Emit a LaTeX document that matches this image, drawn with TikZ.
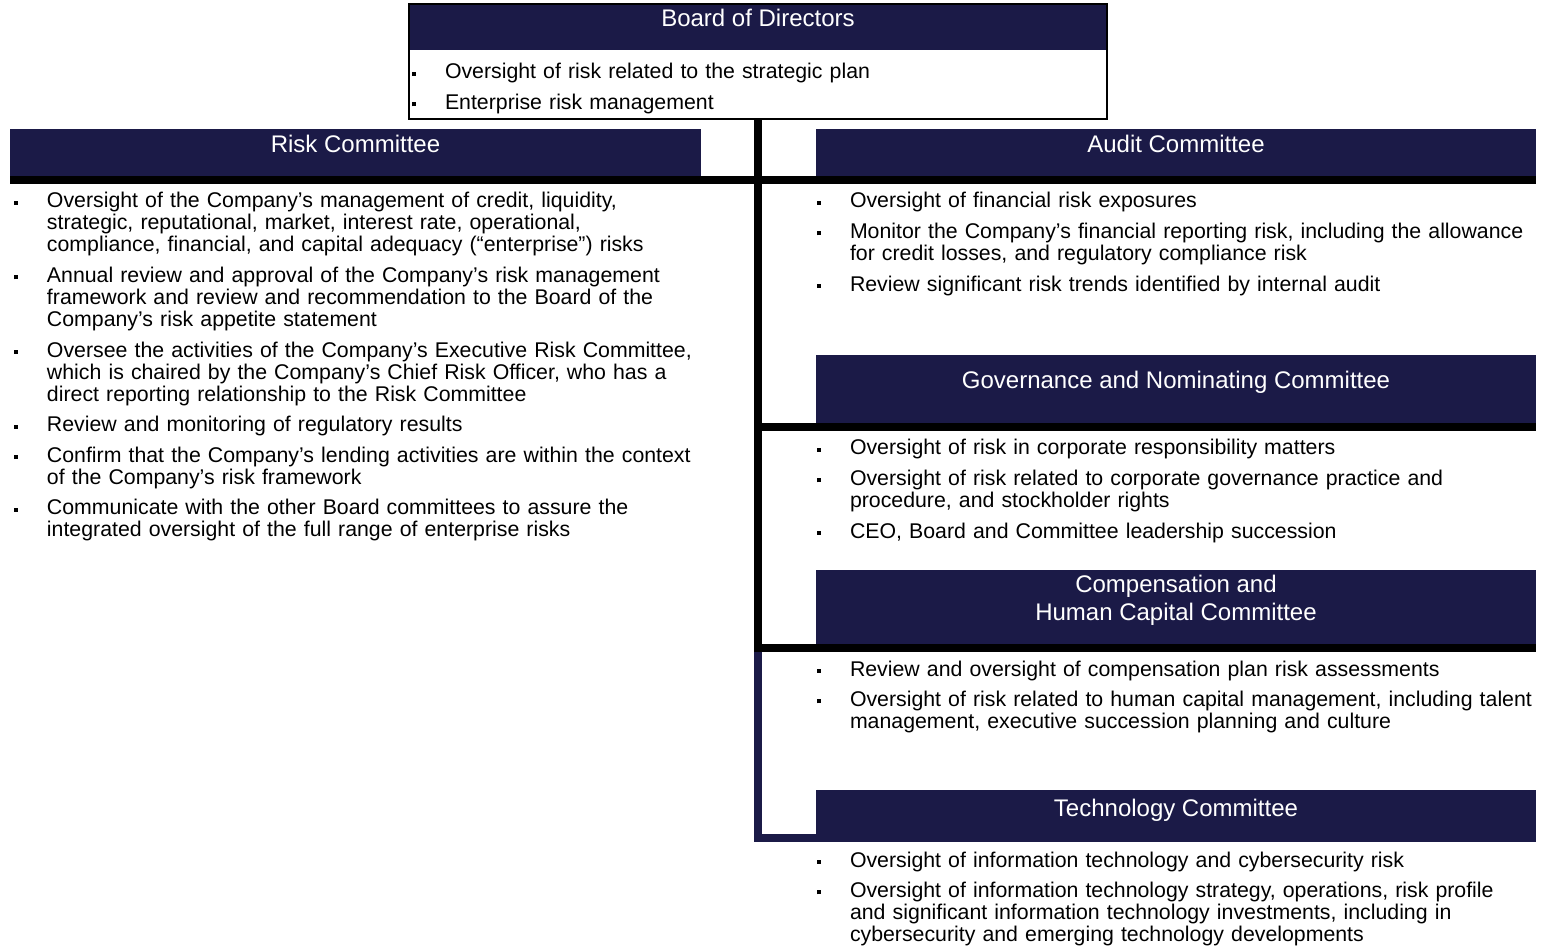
\documentclass[tikz,border=0pt]{standalone}
\usepackage{fontspec}
\setmainfont{Liberation Sans}
\usetikzlibrary{positioning}
\definecolor{cNavy}{HTML}{1B1A47}
\newcommand{\bpoint}[1]{\hangindent=16.5pt\hangafter=1\noindent
  \makebox[16.5pt][l]{\rule{0pt}{8pt}\raisebox{1.6pt}{\rule{2pt}{2pt}}}#1\par\vspace{4.3pt}}
\tikzset{
  hdr/.style      ={fill=cNavy, text=white, anchor=north west, inner sep=0pt, outer sep=0pt,
                    font=\fontsize{12}{14}\selectfont, text height=0pt, text depth=0pt},
  boardbox/.style ={fill=white, anchor=north west, inner sep=0pt, outer sep=0pt,
                    minimum width=349pt, minimum height=34.5pt},
  blist/.style    ={anchor=north west, text width=400pt, inner sep=0pt, outer sep=0pt,
                    align=left, font=\fontsize{10.65}{11}\selectfont},
  bar/.style      ={line width=4pt, draw=black},
  navybar/.style  ={line width=4pt, draw=cNavy, line join=miter},
  frame/.style    ={line width=1pt, draw=black}
}
\begin{document}
\begin{tikzpicture}[x=0.5pt, y=-0.5pt]
  \useasboundingbox (0,0) rectangle (1543,946);

  % ====================== Board ======================
  \node[hdr, minimum width=349pt, minimum height=23pt] (boardHdr) at (409,4) {Board of Directors};
  \node[boardbox] (boardBody) at (boardHdr.south west) {};
  \draw[frame] (boardHdr.north west) rectangle (boardBody.south east);
  \node[blist] (boardList) at (412,63) {%
    \bpoint{Oversight of risk related to the strategic plan}
    \bpoint{Enterprise risk management}};

  % ====================== Committee headers ======================
  \node[hdr, minimum width=345.5pt, minimum height=23.5pt] (riskHdr)  at (10,129)  {Risk Committee};
  \node[hdr, minimum width=360pt,   minimum height=23.5pt] (auditHdr) at (816,129) {Audit Committee};
  \node[hdr, minimum width=360pt,   minimum height=34pt]   (govHdr)   at (816,355) {Governance and Nominating Committee};
  \node[hdr, minimum width=360pt,   minimum height=37pt]   (compHdr)  at (816,570) {%
    \begin{tabular}{@{}c@{}}Compensation and\\Human Capital Committee\end{tabular}};
  \node[hdr, minimum width=360pt,   minimum height=26pt]   (techHdr)  at (816,790) {Technology Committee};

  % ====================== Spine and bars ======================
  \draw[bar] (boardBody.south) -- ([yshift=-4pt]boardBody.south |- compHdr.south);
  \draw[bar] ([yshift=-2pt]riskHdr.south west) -- ([yshift=-2pt]auditHdr.south east);
  \draw[bar] ([yshift=-2pt]boardBody.south |- govHdr.south) -- ([yshift=-2pt]govHdr.south east);
  \draw[bar] ([yshift=-2pt,xshift=-2pt]boardBody.south |- compHdr.south) -- ([yshift=-2pt]compHdr.south east);
  \draw[navybar] ([yshift=-4pt]boardBody.south |- compHdr.south)
    -- ([yshift=2pt]boardBody.south |- techHdr.south) -- ([yshift=2pt]techHdr.south west);

  % ====================== Risk Committee ======================
  \node[blist] (riskList) at (14,192) {%
    \bpoint{Oversight of the Company’s management of credit, liquidity,\newline
      strategic, reputational, market, interest rate, operational,\newline
      compliance, financial, and capital adequacy (“enterprise”) risks}
    \bpoint{Annual review and approval of the Company’s risk management\newline
      framework and review and recommendation to the Board of the\newline
      Company’s risk appetite statement}
    \bpoint{Oversee the activities of the Company’s Executive Risk Committee,\newline
      which is chaired by the Company’s Chief Risk Officer, who has a\newline
      direct reporting relationship to the Risk Committee}
    \bpoint{Review and monitoring of regulatory results}
    \bpoint{Confirm that the Company’s lending activities are within the context\newline
      of the Company’s risk framework}
    \bpoint{Communicate with the other Board committees to assure the\newline
      integrated oversight of the full range of enterprise risks}};

  % ====================== Right column ======================
  \node[blist] (auditList) at (817,192) {%
    \bpoint{Oversight of financial risk exposures}
    \bpoint{Monitor the Company’s financial reporting risk, including the allowance\newline
      for credit losses, and regulatory compliance risk}
    \bpoint{Review significant risk trends identified by internal audit}};

  \node[blist] (govList) at (817,439) {%
    \bpoint{Oversight of risk in corporate responsibility matters}
    \bpoint{Oversight of risk related to corporate governance practice and\newline
      procedure, and stockholder rights}
    \bpoint{CEO, Board and Committee leadership succession}};

  \node[blist] (compList) at (817,660) {%
    \bpoint{Review and oversight of compensation plan risk assessments}
    \bpoint{Oversight of risk related to human capital management, including talent\newline
      management, executive succession planning and culture}};

  \node[blist] (techList) at (817,851) {%
    \bpoint{Oversight of information technology and cybersecurity risk}
    \bpoint{Oversight of information technology strategy, operations, risk profile\newline
      and significant information technology investments, including in\newline
      cybersecurity and emerging technology developments}};

\end{tikzpicture}
\end{document}
